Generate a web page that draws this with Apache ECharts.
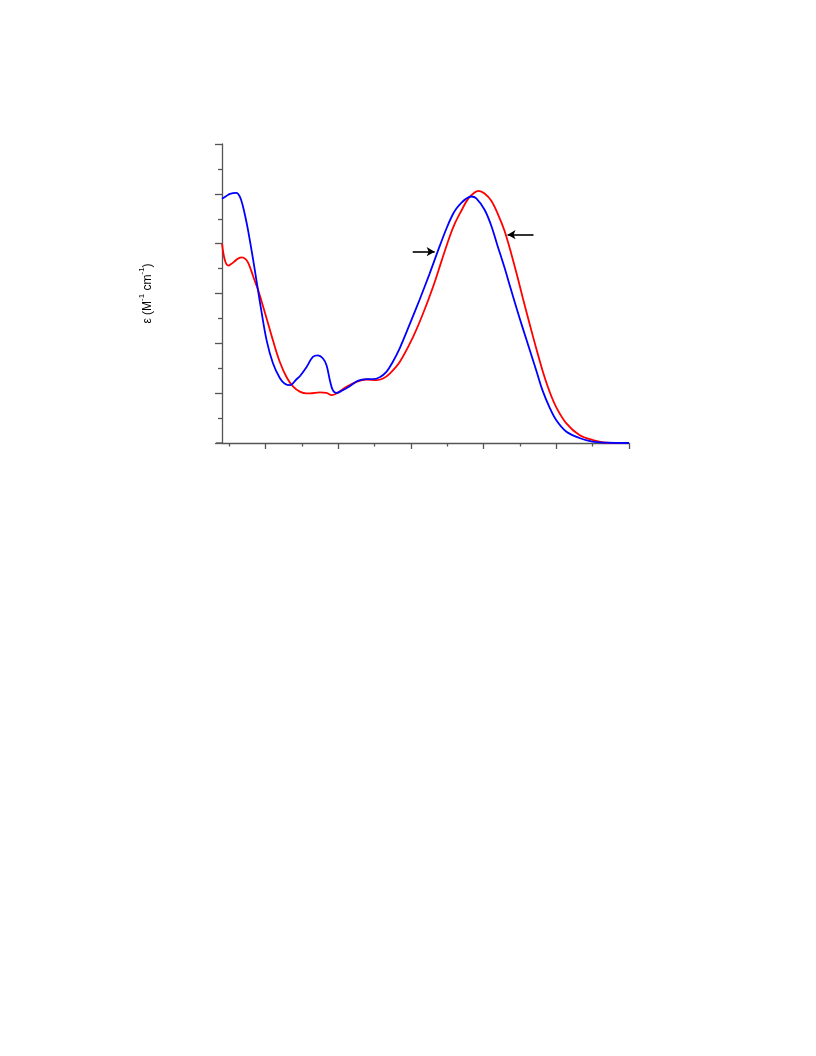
<!DOCTYPE html>
<html>
<head>
<meta charset="utf-8">
<script src="https://cdn.jsdelivr.net/npm/echarts@6/dist/echarts.min.js"></script>
<style>
html,body{margin:0;padding:0;background:#fff;}
#c{width:816px;height:1056px;}
</style>
</head>
<body>
<div id="c"></div>
<script>
// wavelength (nm) and epsilon (M^-1 cm^-1)
const blueX = [240,245.5,251,259.6,264.7,268.6,272.7,275.7,282.6,288.1,293.6,301.4,310.1,319.7,326.5,333.4,342.6,347.1,356.4,365,371.9,378.7,383.8,388.4,392.5,397.6,406.2,415.8,426.8,438.8,447.4,457,466.2,474.9,484.5,498.2,512,525.7,536.7,548.7,557.3,562.8,569.3,575.2,583,589.9,601.3,610.5,619.1,628.7,637,645.2,653.5,663.1,672.3,680.9,690.5,699.8,713.5,731.8,749.6,768.4,800];
const blueY = [24500,24750,25000,25100,24700,23800,22500,21400,18500,16000,13500,10300,8000,6500,5950,5800,6400,6700,7630,8630,8800,8500,7800,6300,5300,5030,5300,5700,6230,6400,6400,6600,7130,8130,9500,11900,14400,17000,19200,21500,22900,23550,24100,24470,24730,24550,23400,21800,19800,17600,15550,13550,11600,9400,7300,5300,3600,2300,1150,500,130,30,0];
const redX = [240,244.1,248.7,252.4,257.4,262,267.5,271.6,275.7,280.2,284.9,289.5,294.9,301.4,310.5,319.7,328.9,338,347.1,356.4,361,374.6,383.8,390.7,397.6,411.3,425,438.8,452.5,461.6,470.8,484.5,502.8,516.5,530.2,541.8,553.2,560,569.3,578.3,587.5,593,601.3,610.5,619.6,628.7,638,646.6,653.9,663.1,672.3,681.3,690.5,699.8,713.5,731.8,750,768.4,800];
const redY = [20000,18300,17800,17950,18230,18500,18630,18500,18130,17300,16300,15400,14100,12500,10200,8100,6600,5650,5150,4970,4970,5070,5030,4800,4970,5630,6130,6370,6300,6470,6970,8130,10630,12970,15630,18200,20700,21970,23300,24470,25130,25300,25030,24300,22970,21300,19000,16650,14550,12000,9500,7200,5200,3600,2000,800,300,30,0];
// arrows: [start, end] in data coords
const arrowBlue = [[502.4,19200],[532.6,19200]];
const arrowRed = [[668.6,20900],[632.9,20900]];
// axis settings
const xMin = 240, xMax = 800;
const xMajorTicks = [300,400,500,600,700,800];
const xMinorTicks = [250,350,450,550,650,750];
const yMin = 0, yMax = 30000, yInterval = 5000;
const yTitle = '{t|ε (M}{s|-1}{t| cm}{s|-1}{t|)}';

const zip = (a,b) => a.map((v,i)=>[v,b[i]]);
const chart = echarts.init(document.getElementById('c'), null, {renderer:'canvas'});
const axisLineStyle = {color:'#555', width:1.3};
chart.setOption({
  animation:false,
  backgroundColor:'#fff',
  grid:{left:222, top:144, width:407, height:299, containLabel:false},
  xAxis:[{
    type:'value', min:xMin, max:xMax, position:'bottom',
    axisLine:{show:true, onZero:false, lineStyle:axisLineStyle},
    axisTick:{show:true, inside:false, length:6, customValues:xMajorTicks, lineStyle:axisLineStyle},
    axisLabel:{show:false},
    splitLine:{show:false}
  },{
    type:'value', min:xMin, max:xMax, position:'bottom',
    axisLine:{show:false},
    axisTick:{show:true, inside:false, length:3.5, customValues:xMinorTicks, lineStyle:axisLineStyle},
    axisLabel:{show:false},
    splitLine:{show:false}
  }],
  yAxis:{
    type:'value', min:yMin, max:yMax, interval:yInterval,
    name:yTitle, nameLocation:'middle', nameGap:68, nameRotate:90,
    nameTextStyle:{
      rich:{
        t:{fontFamily:'Liberation Sans, Arial, sans-serif', fontSize:12, color:'#000', verticalAlign:'bottom', lineHeight:16},
        s:{fontFamily:'Liberation Sans, Arial, sans-serif', fontSize:8, color:'#000', verticalAlign:'top', lineHeight:16}
      }
    },
    axisLine:{show:true, onZero:false, lineStyle:axisLineStyle},
    axisTick:{show:true, inside:false, length:7, lineStyle:axisLineStyle},
    minorTick:{show:true, splitNumber:2, length:4, lineStyle:axisLineStyle},
    axisLabel:{show:false},
    splitLine:{show:false}
  },
  graphic:[{
    type:'line', shape:{x1:216, y1:443, x2:222, y2:443}, style:{stroke:'#555', lineWidth:1.3}
  }],
  series:[{
    type:'line', data:zip(redX, redY), smooth:0.35, showSymbol:false,
    lineStyle:{color:'#ff0000', width:1.8}, itemStyle:{color:'#ff0000'}
  },{
    type:'line', data:zip(blueX, blueY), smooth:0.35, showSymbol:false,
    lineStyle:{color:'#0000ff', width:1.8}, itemStyle:{color:'#0000ff'},
    markLine:{
      silent:true, symbol:['none','arrow'], symbolSize:[7,8],
      label:{show:false},
      lineStyle:{color:'#000', width:1.6, type:'solid'},
      data:[
        [{coord:arrowBlue[0]},{coord:arrowBlue[1]}],
        [{coord:arrowRed[0]},{coord:arrowRed[1]}]
      ]
    }
  }]
});
</script>
</body>
</html>
